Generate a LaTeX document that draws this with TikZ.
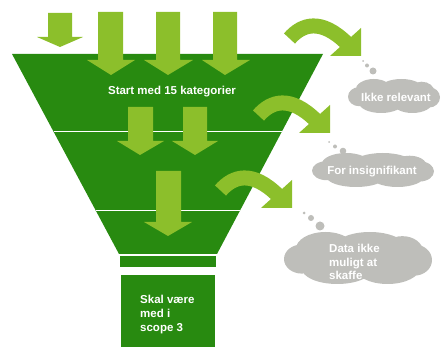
\documentclass[tikz,border=0pt]{standalone}
\usepackage{fontspec}
\setmainfont{Liberation Sans}
\definecolor{funnelgreen}{RGB}{40,138,16}
\definecolor{arrowgreen}{RGB}{140,191,43}
\definecolor{cloudgray}{RGB}{190,190,186}
\tikzset{
  funnelpart/.style={fill=funnelgreen, draw=none},
  sepline/.style={draw=white, line width=1pt},
  downarrow/.style={fill=arrowgreen, draw=none},
  curveshaft/.style={draw=arrowgreen, line width=15pt, line cap=butt},
  curvehead/.style={fill=arrowgreen, draw=none},
  bubble/.style={fill=cloudgray, draw=none},
  label/.style={text=white, font=\bfseries\fontsize{11.5}{14}\selectfont, inner sep=0pt},
}
% cloud blob: center x, center y, width, height
\newcommand\mycloudblob[4]{%
  \fill[bubble]
    (#1,#2) ellipse [x radius={0.42*#3}, y radius={0.36*#4}]
    ({#1-0.22*#3},{#2-0.17*#4}) ellipse [x radius={0.2*#3}, y radius={0.33*#4}]
    ({#1+0.08*#3},{#2-0.2*#4}) ellipse [x radius={0.24*#3}, y radius={0.3*#4}]
    ({#1+0.3*#3},{#2-0.12*#4}) ellipse [x radius={0.14*#3}, y radius={0.3*#4}]
    ({#1-0.14*#3},{#2+0.2*#4}) ellipse [x radius={0.24*#3}, y radius={0.3*#4}]
    ({#1+0.2*#3},{#2+0.18*#4}) ellipse [x radius={0.22*#3}, y radius={0.32*#4}]
    ({#1-0.38*#3},{#2+0.02*#4}) ellipse [x radius={0.12*#3}, y radius={0.28*#4}]
    ({#1+0.38*#3},{#2+0.04*#4}) ellipse [x radius={0.12*#3}, y radius={0.3*#4}];
}
\begin{document}
\begin{tikzpicture}[x=1pt, y=-1pt]
\useasboundingbox (0,0) rectangle (442,347);
% funnel
\fill[funnelpart] (12,54) -- (323,54) -- (217,254) -- (119,254) -- cycle;
\coordinate (l1a) at (53.7,132); \coordinate (l1b) at (281.5,132);
\coordinate (l2a) at (96,211); \coordinate (l2b) at (240,211);
\draw[sepline] (l1a) -- (l1b);
\draw[sepline] (l2a) -- (l2b);
\fill[funnelpart] (120,256) rectangle (216,267);
\fill[funnelpart] (121,275) rectangle (215,347);
% straight arrows
\fill[downarrow] (48,13) -- (72,13) -- (72,37) -- (83,37) -- (60,47) -- (37,37) -- (48,37) -- cycle;
\fill[downarrow] (98,12) -- (123,12) -- (123,60) -- (135,60) -- (111,75) -- (87,60) -- (98,60) -- cycle;
\fill[downarrow] (156,12) -- (180,12) -- (180,60) -- (193,60) -- (168,75) -- (144,60) -- (156,60) -- cycle;
\fill[downarrow] (213,12) -- (237,12) -- (237,60) -- (250,60) -- (225,75) -- (202,60) -- (213,60) -- cycle;
\fill[downarrow] (128,107) -- (153,107) -- (153,141) -- (164,141) -- (140,155) -- (117,141) -- (128,141) -- cycle;
\fill[downarrow] (183,107) -- (207,107) -- (207,141) -- (218,141) -- (195,155) -- (172,141) -- (183,141) -- cycle;
\fill[downarrow] (156,171) -- (181,171) -- (181,222) -- (192,222) -- (168,236) -- (144,222) -- (156,222) -- cycle;
% curved arrows
\foreach \dx/\dy in {0/0, -31/77, -69/152} {
  \begin{scope}[shift={(\dx,\dy)}]
    \draw[curveshaft] (289.5,38.5) .. controls (302,24) and (321,18) .. (346.5,43);
    \fill[curvehead] (361,28) -- (361,56) -- (330,56) -- cycle;
  \end{scope}
}
% clouds
\mycloudblob{394}{96}{92}{34}
\mycloudblob{373}{170}{122}{34}
\mycloudblob{358}{258}{148}{52}
\fill[bubble] (363,61) circle (1pt) (367,65.5) circle (2pt) (373,71) circle (3.5pt);
\fill[bubble] (329,142) circle (1pt) (335,146.5) circle (2pt) (343,151) circle (3.3pt);
\fill[bubble] (304,213) circle (1.5pt) (311,218) circle (3pt) (320,226) circle (4.5pt);
% texts
\node[label] (t0) at (172,92) {Start med 15 kategorier};
\node[label] (t1) at (396,97) {Ikke relevant};
\node[label] (t2) at (372,172) {For insignifikant};
\node[label, anchor=west, align=left, font=\bfseries\fontsize{11.5}{13.5}\selectfont] (t3) at (329,262) {Data ikke\\muligt at\\skaffe};
\node[label, anchor=west, align=left] (t4) at (140,315) {Skal være\\med i\\scope 3};
\end{tikzpicture}
\end{document}
